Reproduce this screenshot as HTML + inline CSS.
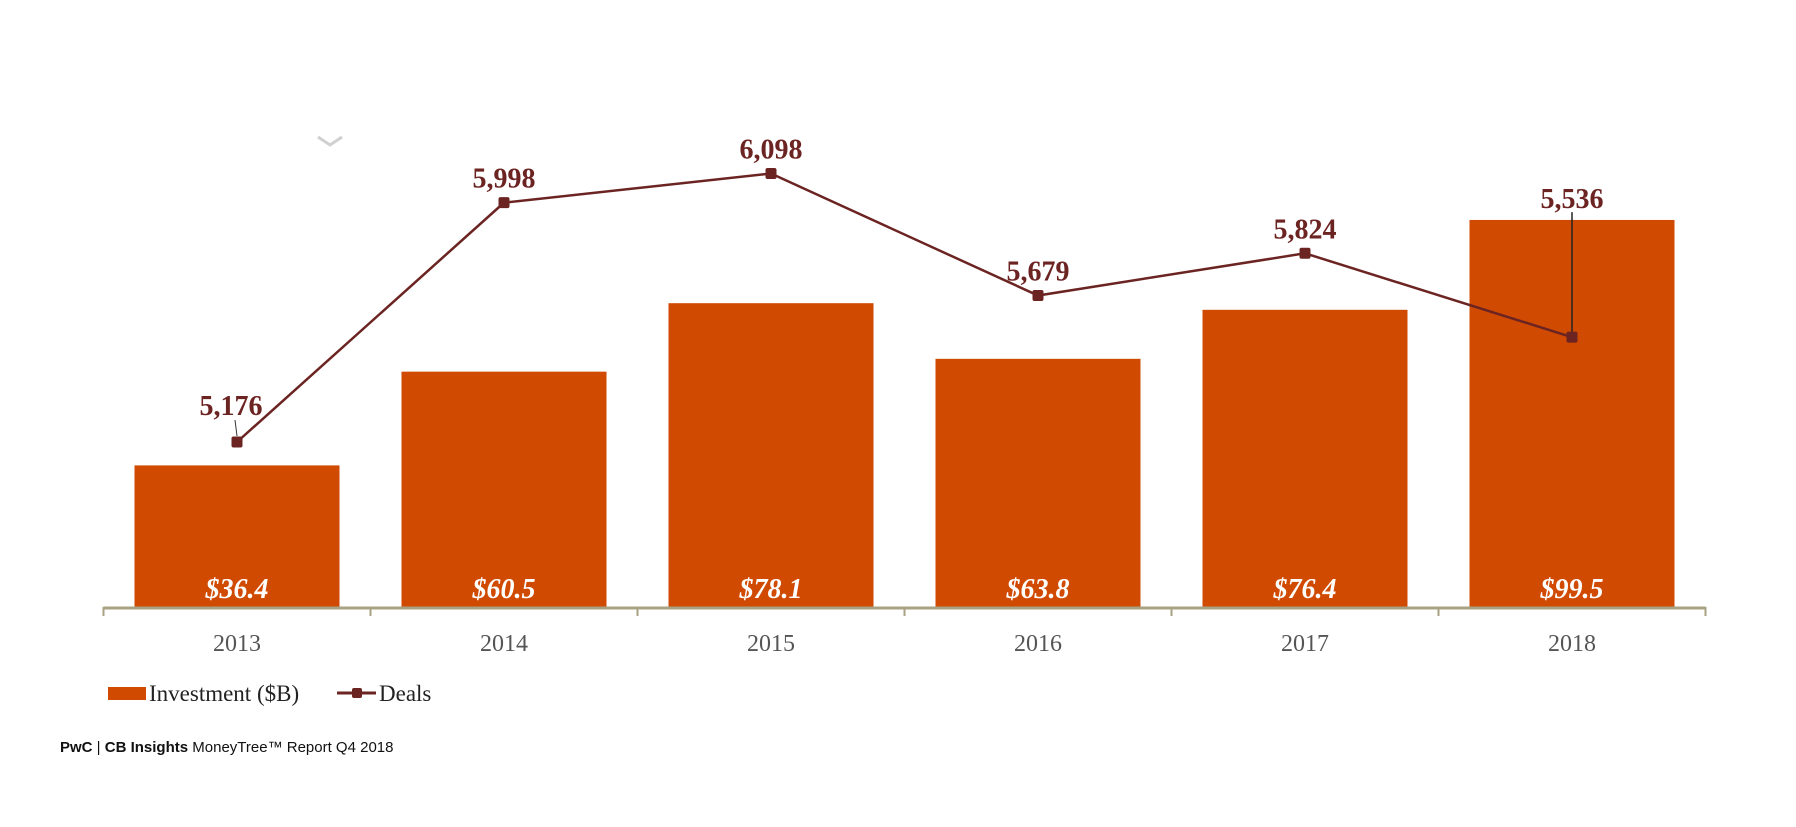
<!DOCTYPE html>
<html><head><meta charset="utf-8"><style>
html,body{margin:0;padding:0;background:#fff;}
body{width:1796px;height:822px;overflow:hidden;position:relative;font-family:"Liberation Serif",serif;}
</style></head><body>
<svg id="chart" width="1796" height="822" viewBox="0 0 1796 822" xmlns="http://www.w3.org/2000/svg">
<path d="M318 137 L330 145 L342 137" fill="none" stroke="#d0d0d0" stroke-width="3"/>
<g id="bars"></g>
<g id="axis"></g>
<g id="line"></g>
<g>
<rect x="108" y="687" width="38" height="13" fill="#d04a02"/>
<text x="149" y="701" font-size="23" fill="#222" font-family="Liberation Serif, serif">Investment ($B)</text>
<line x1="337" y1="693" x2="376" y2="693" stroke="#6b2422" stroke-width="3"/>
<rect x="352" y="688" width="10" height="10" rx="2" fill="#6b2422"/>
<text x="379" y="701" font-size="23" fill="#222" font-family="Liberation Serif, serif">Deals</text>
</g>
<text x="60" y="752" font-size="15" fill="#111" font-family="Liberation Sans, sans-serif"><tspan font-weight="bold">PwC</tspan> | <tspan font-weight="bold">CB Insights</tspan> MoneyTree™ Report Q4 2018</text>
</svg>
<script>
const years = ["2013","2014","2015","2016","2017","2018"];
const investment = [36.4, 60.5, 78.1, 63.8, 76.4, 99.5];
const investmentLabels = ["$36.4","$60.5","$78.1","$63.8","$76.4","$99.5"];
const deals = [5176, 5998, 6098, 5679, 5824, 5536];
const dealLabels = ["5,176","5,998","6,098","5,679","5,824","5,536"];

const NS = "http://www.w3.org/2000/svg";
const axisY = 607, x0 = 103.5, band = 267, barW = 205;
function xCenter(i){ return x0 + band*(i+0.5); }
function yInv(v){ return axisY - v*3.89; }
function yDeal(d){ return 442 - (d-5176)*0.2912; }
function mk(tag, attrs, parent){ const e=document.createElementNS(NS,tag); for(const k in attrs) e.setAttribute(k,attrs[k]); parent.appendChild(e); return e; }

const gB=document.getElementById('bars'), gA=document.getElementById('axis'), gL=document.getElementById('line');
investment.forEach((v,i)=>{
  const r=mk('rect',{x:xCenter(i)-barW/2,y:yInv(v),width:barW,height:axisY-yInv(v),fill:'#d04a02'},gB);
  
  
  const t=mk('text',{x:xCenter(i),y:598,'text-anchor':'middle','font-size':28,'font-weight':'bold','font-style':'italic',fill:'#fff'},gB);
  t.textContent=investmentLabels[i];
  
  
});
const ax=mk('line',{x1:x0,y1:axisY+1,x2:x0+band*years.length,y2:axisY+1,stroke:'#a8a283','stroke-width':3},gA);


for(let i=0;i<=years.length;i++){
  const tk=mk('line',{x1:x0+band*i,y1:axisY,x2:x0+band*i,y2:axisY+9,stroke:'#a8a283','stroke-width':2},gA);
  
  
}
years.forEach((y,i)=>{
  const t=mk('text',{x:xCenter(i),y:651,'text-anchor':'middle','font-size':24,fill:'#555'},gA);
  t.textContent=y;
  
  
});
const pts=deals.map((d,i)=>xCenter(i)+','+yDeal(d)).join(' ');
const pl=mk('polyline',{points:pts,fill:'none',stroke:'#6b2422','stroke-width':2.5},gL);


deals.forEach((d,i)=>{
  const cx=xCenter(i), cy=yDeal(d);
  let ly=cy-15, lx=cx;
  if(i===0){ ly=cy-27; lx=cx-6; const ld=mk('line',{x1:cx-2,y1:cy-22,x2:cx,y2:cy-6,stroke:'#333','stroke-width':1},gL);   }
  if(i===deals.length-1){ ly=cy-129; const ld=mk('line',{x1:cx,y1:cy-125,x2:cx,y2:cy-5,stroke:'#222','stroke-width':1.5},gL);   }
  const m=mk('rect',{x:cx-5.5,y:cy-5.5,width:11,height:11,rx:2,fill:'#6b2422'},gL);
  
  
  const t=mk('text',{x:lx,y:ly,'text-anchor':'middle','font-size':28,'font-weight':'bold',fill:'#6b2422'},gL);
  t.textContent=dealLabels[i];
  
  
});
</script>
</body></html>
